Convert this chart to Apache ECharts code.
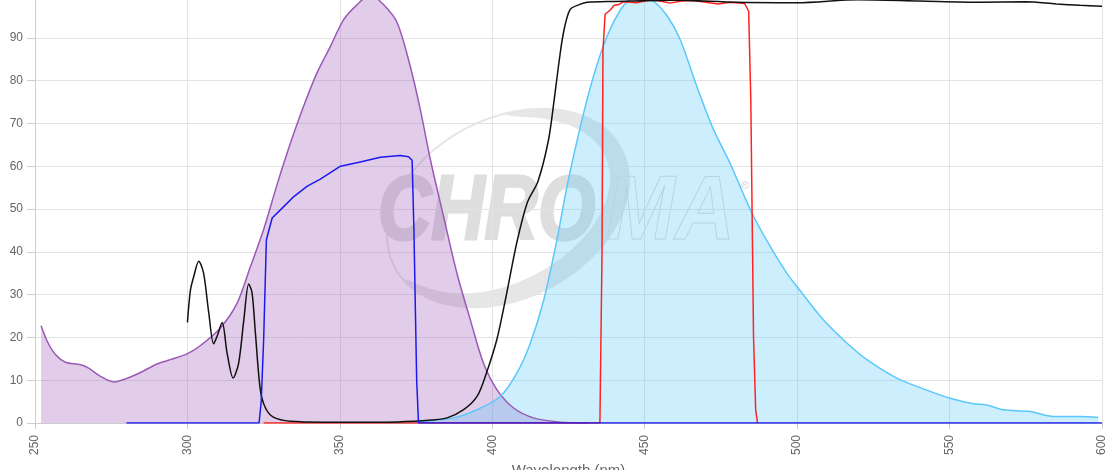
<!DOCTYPE html>
<html>
<head>
<meta charset="utf-8">
<script src="https://cdn.jsdelivr.net/npm/echarts@6/dist/echarts.min.js"></script>
<style>
  html, body { margin: 0; padding: 0; background: #fff; }
  #chart { width: 1120px; height: 470px; }
</style>
</head>
<body>
<div id="chart"></div>
<script>
// [wavelength nm, %]
var excitation = [[252,22.7],[254,19.1],[256.7,16],[260,14.2],[265,13.6],[267.6,12.8],[271.5,10.9],[275.8,9.6],[279.7,10.3],[284.6,11.8],[290,13.8],[294.4,14.8],[300,16.2],[304.3,18.1],[310.8,22.2],[316.3,28],[320.7,36.6],[325,45.2],[329.4,55.7],[333.8,65.4],[338.1,74],[342.5,81.8],[346.9,88],[351.2,94.2],[355.6,97.7],[360,100],[364.4,97.7],[368.8,93.5],[373.1,83.3],[376.4,73.2],[379.7,61.5],[384,48.3],[388.4,35],[392.8,24.1],[397.1,14],[401.5,7.8],[407,3.5],[413.5,1.2],[422.3,0.2],[431,0]];
var emission = [[365,0],[376.4,0.3],[387.3,1.2],[395,3.1],[402.6,6.2],[408.1,11.7],[412.5,18.7],[416.9,28.8],[421.2,42.8],[424.5,55.3],[428.9,69.3],[433.2,81],[437.6,90.3],[442,96.5],[445.3,99],[449,100],[452.9,98.6],[457.3,95.2],[461.7,89.5],[467.1,78.6],[472.6,68.5],[478,60.7],[485.2,49],[491.2,41.2],[496.6,35],[499.9,31.9],[508.6,24.1],[516.3,18.7],[522.9,14.8],[532.7,10.5],[543.6,7.4],[550.2,5.8],[557.8,4.5],[562.2,4.2],[567.6,3.1],[576.4,2.7],[584,1.5],[592.8,1.5],[598.8,1.3]];
var exFilter = [[280,0],[323.5,0],[324.2,5],[325,19.5],[325.9,42.8],[327.8,47.9],[330.5,49.8],[334.9,52.9],[339.2,55.3],[343.6,57],[350.2,60],[356.7,61],[363.3,62.1],[369.8,62.5],[372.5,62.2],[373.7,61.4],[374.3,45],[375.2,10],[375.8,0],[600,0]];
var dichroic = [[300,23.5],[301,31.1],[302.1,34.3],[303.7,37.8],[305.3,35],[307,25.7],[308.6,18.5],[309.7,20.2],[311.4,23.5],[313,16.4],[315,10.5],[316.8,14],[318.5,24.1],[320.1,32.5],[321.2,30.4],[322.3,21],[323.9,7.8],[325.6,3.5],[328.3,1.3],[333.8,0.4],[345,0.2],[365,0.2],[374.2,0.4],[380,0.7],[385.2,1.2],[390.6,3.1],[395,6.2],[398,11.5],[401.5,19.5],[404.5,29.5],[408,42],[411.5,51.5],[415,56.5],[418.4,66],[420.3,75.5],[421.7,83.3],[423.3,91],[425.5,96.6],[428.7,97.8],[431.1,98.3],[440,98.5],[460,98.8],[480,98.3],[500,98.2],[520,98.9],[540,98.6],[560,98.3],[575,98.4],[585,97.9],[592.8,97.6],[600,97.4]];
var emFilter = [[325,0],[435.3,0],[436,40],[436.3,87],[437,95.5],[438.7,96.5],[440,97.6],[441.5,97.8],[443,98.4],[447.4,98.2],[452,98.9],[455,98.6],[458.3,98.1],[462,98.6],[466,98.7],[470,98.3],[474,97.9],[478,98.3],[482.8,98],[484.1,96.2],[484.8,75.5],[485.7,20],[486.4,3],[487,0]];

// watermark ring
function ringPts(cx, cy, a, b, rot, t0, t1, thick) {
  var outer = [], inner = [], n = 60;
  for (var i = 0; i <= n; i++) {
    var t = t0 + (t1 - t0) * i / n;
    var w = thick * Math.sqrt(Math.sin(Math.PI * i / n));
    var lx = a * Math.cos(t), ly = b * Math.sin(t);
    var ix = (a - w) * Math.cos(t), iy = (b - w) * Math.sin(t);
    outer.push([cx + lx * Math.cos(rot) + ly * Math.sin(rot), cy - lx * Math.sin(rot) + ly * Math.cos(rot)]);
    inner.unshift([cx + ix * Math.cos(rot) + iy * Math.sin(rot), cy - ix * Math.sin(rot) + iy * Math.cos(rot)]);
  }
  return outer.concat(inner);
}

var myChart = echarts.init(document.getElementById('chart'));
var line = function (name, data, color, extra) {
  var s = {
    name: name, type: 'line', data: data, showSymbol: false,
    lineStyle: { color: color, width: 1.5 }, itemStyle: { color: color }
  };
  for (var k in extra) s[k] = extra[k];
  return s;
};
var option = {
  animation: false,
  grid: { left: 35, right: 18, top: -5, bottom: 47, containLabel: false, outerBoundsMode: 'none' },
  xAxis: {
    type: 'value', min: 250, max: 600, interval: 50,
    name: 'Wavelength (nm)', nameLocation: 'middle', nameGap: 37,
    nameTextStyle: { color: '#666', fontSize: 15 },
    axisLine: { show: true, lineStyle: { color: '#ccc' } },
    axisTick: { show: true, length: 6, lineStyle: { color: '#ccc' } },
    axisLabel: { rotate: 90, color: '#666', fontSize: 12, margin: 12 },
    splitLine: { show: true, lineStyle: { color: '#e3e3e3' } }
  },
  yAxis: {
    type: 'value', min: 0, max: 100, interval: 10,
    axisLine: { show: true, lineStyle: { color: '#ccc' } },
    axisTick: { show: true, length: 8, lineStyle: { color: '#ccc' } },
    axisLabel: { color: '#666', fontSize: 12, margin: 12 },
    splitLine: { lineStyle: { color: '#e3e3e3' } }
  },
  graphic: [
    { type: 'polygon', z: -1, shape: { points: ringPts(508, 208, 128, 90, 0.48, -0.4 * Math.PI, 0.95 * Math.PI, 20) },
      style: { fill: '#e6e6e6' } },
    { type: 'ellipse', z: -1, x: 508, y: 208, rotation: 0.48, shape: { cx: 0, cy: 0, rx: 128, ry: 90 },
      style: { fill: 'none', stroke: '#e6e6e6', lineWidth: 2 } },
    { type: 'text', z: -1, x: 378, y: 214, scaleX: 0.82,
      style: { text: 'CHRO', font: 'italic bold 90px "Liberation Sans"', fill: '#dedede',
        stroke: '#dedede', lineWidth: 3, verticalAlign: 'middle' } },
    { type: 'text', z: -1, x: 606, y: 214, scaleX: 0.92,
      style: { text: 'MA', font: 'italic bold 90px "Liberation Sans"', fill: 'none', stroke: '#dadada', lineWidth: 1, verticalAlign: 'middle' } },
    { type: 'text', z: -1, x: 741, y: 186,
      style: { text: '®', font: '11px "Liberation Sans"', fill: '#d6d6d6', verticalAlign: 'middle' } }
  ],
  series: [
    line('Excitation', excitation, '#9b59b6', { smooth: 0.3, areaStyle: { color: 'rgba(155,89,182,0.3)', opacity: 1 } }),
    line('Emission', emission, '#5ac8fa', { smooth: 0.3, areaStyle: { color: 'rgba(90,200,250,0.3)', opacity: 1 } }),
    line('Emission filter', emFilter, '#ff2222', {}),
    line('Dichroic', dichroic, '#111111', { smooth: 0.3 }),
    line('Excitation filter', exFilter, '#1a1aee', {})
  ]
};
myChart.setOption(option);
</script>
</body>
</html>
